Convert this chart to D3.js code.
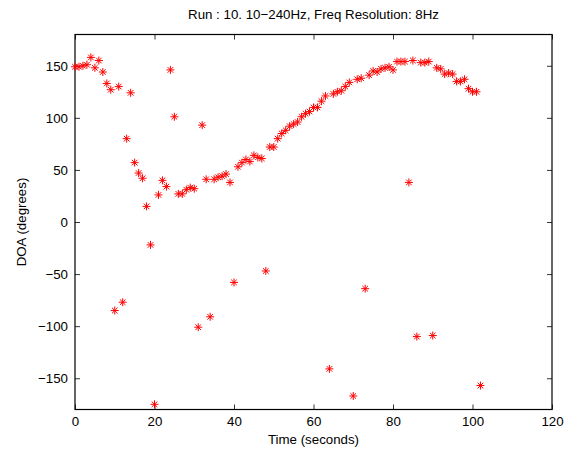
<!DOCTYPE html>
<html>
<head>
<meta charset="utf-8">
<script src="https://cdn.jsdelivr.net/npm/d3@7"></script>
<style>
  body { margin: 0; background: #fff; }
  svg { font-family: "Liberation Sans", Arial, sans-serif; }
</style>
</head>
<body>
<div id="main-container"></div>
<script>
// Data
const TIME = [
    0, 1, 2, 3, 4, 5, 6, 7, 8, 9, 10, 11, 12, 13, 14, 15, 16, 17, 18, 19, 20,
    21, 22, 23, 24, 25, 26, 27, 28, 29, 30, 31, 32, 33, 34, 35, 36, 37, 38, 39, 40,
    41, 42, 43, 44, 45, 46, 47, 48, 49, 50, 51, 52, 53, 54, 55, 56, 57, 58, 59, 60,
    61, 62, 63, 64, 65, 66, 67, 68, 69, 70, 71, 72, 73, 74, 75, 76, 77, 78, 79, 80,
    81, 82, 83, 84, 85, 86, 87, 88, 89, 90, 91, 92, 93, 94, 95, 96, 97, 98, 99, 100,
    101, 102
];
const DOA = [
    149, 149, 150, 151, 158, 148, 155, 144, 133, 127, -85, 130, -77, 80, 124, 57, 47, 42, 15, -22, -175,
    26, 40, 34, 146, 101, 27, 27, 31, 33, 32, -101, 93, 41, -91, 41, 43, 44, 46, 38, -58,
    53, 57, 60, 58, 64, 62, 61, -47, 72, 72, 80, 85, 88, 92, 94, 96, 101, 104, 106, 110,
    110, 116, 121, -141, 123, 125, 126, 130, 134, -167, 137, 138, -64, 141, 145, 144, 147, 148, 149, 146,
    154, 154, 154, 38, 155, -110, 153, 153, 154, -109, 148, 147, 142, 143, 142, 135, 135, 137, 128, 125,
    125, -157
];
const X_TICKS = [0, 20, 40, 60, 80, 100, 120];
const Y_TICKS = [-150, -100, -50, 0, 50, 100, 150];

const TITLE = 'Run : 10. 10\u2212240Hz, Freq Resolution: 8Hz';
const X_LABEL = 'Time (seconds)';
const Y_LABEL = 'DOA (degrees)';

const SVG_WIDTH = 574;
const SVG_HEIGHT = 451;
const MARGIN = { top: 34.5, right: 22, bottom: 41.5, left: 75 };
const TICK_LEN = 5;
const FONT_SIZE = '13.3px';

const SVG = d3.select('#main-container').append('svg')
    .attr('width', SVG_WIDTH)
    .attr('height', SVG_HEIGHT);

const X = d3.scaleLinear().domain([0, 120]).range([MARGIN.left, SVG_WIDTH - MARGIN.right]);
const Y = d3.scaleLinear().domain([-180, 180]).range([SVG_HEIGHT - MARGIN.bottom, MARGIN.top]);

const PLOT = SVG.append('g');

// Axes (matlab style: ticks inward, on all four sides)
const bottomAxis = d3.axisBottom(X).tickValues(X_TICKS).tickSize(-TICK_LEN).tickPadding(7).tickFormat(d3.format('d'));
const topAxis = d3.axisTop(X).tickValues(X_TICKS).tickSize(-TICK_LEN).tickFormat('');
const leftAxis = d3.axisLeft(Y).tickValues(Y_TICKS).tickSize(-TICK_LEN).tickPadding(7).tickFormat(d3.format('d'));
const rightAxis = d3.axisRight(Y).tickValues(Y_TICKS).tickSize(-TICK_LEN).tickFormat('');

function styleAxis(g) {
    g.select('.domain').remove();
    g.selectAll('line').attr('stroke', '#000').attr('stroke-width', 0.8);
    g.selectAll('text').attr('fill', '#000').style('font-size', FONT_SIZE)
        .style('font-family', '"Liberation Sans", Arial, sans-serif');
}

PLOT.append('g').attr('transform', `translate(0, ${Y.range()[0]})`).call(bottomAxis).call(styleAxis);
PLOT.append('g').attr('transform', `translate(0, ${Y.range()[1]})`).call(topAxis).call(styleAxis);
PLOT.append('g').attr('transform', `translate(${X.range()[0]}, 0)`).call(leftAxis).call(styleAxis);
PLOT.append('g').attr('transform', `translate(${X.range()[1]}, 0)`).call(rightAxis).call(styleAxis);

// Box
PLOT.append('rect')
    .attr('x', X.range()[0])
    .attr('y', Y.range()[1])
    .attr('width', X.range()[1] - X.range()[0])
    .attr('height', Y.range()[0] - Y.range()[1])
    .attr('fill', 'none')
    .attr('stroke', '#000')
    .attr('stroke-width', 1.2);

// Asterisk markers
const POINTS = TIME.map((t, i) => ({ t, v: DOA[i] }));
const R = 4;
const star = `M${-R},0L${R},0M0,${-R}L0,${R}` +
    `M${-R * 0.7},${-R * 0.7}L${R * 0.7},${R * 0.7}M${-R * 0.7},${R * 0.7}L${R * 0.7},${-R * 0.7}`;

PLOT.append('g')
    .selectAll('path')
    .data(POINTS)
    .join('path')
    .attr('transform', d => `translate(${X(d.t)}, ${Y(d.v)})`)
    .attr('d', star)
    .attr('fill', 'none')
    .attr('stroke', '#ff0000')
    .attr('stroke-width', 1);

// Texts
SVG.append('text')
    .attr('x', (X.range()[0] + X.range()[1]) / 2)
    .attr('y', 19)
    .attr('text-anchor', 'middle')
    .style('font-size', FONT_SIZE)
    .text(TITLE);

SVG.append('text')
    .attr('x', (X.range()[0] + X.range()[1]) / 2)
    .attr('y', 444)
    .attr('text-anchor', 'middle')
    .style('font-size', FONT_SIZE)
    .text(X_LABEL);

SVG.append('text')
    .attr('transform', `translate(26, ${(Y.range()[0] + Y.range()[1]) / 2}) rotate(-90)`)
    .attr('text-anchor', 'middle')
    .style('font-size', FONT_SIZE)
    .text(Y_LABEL);
</script>
</body>
</html>
